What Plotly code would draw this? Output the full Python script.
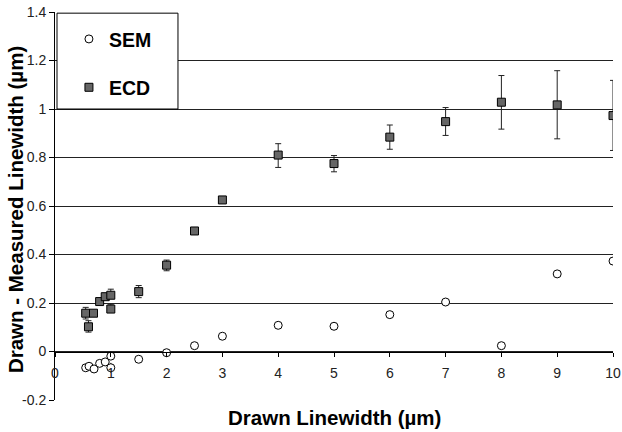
import plotly.graph_objects as go

# SEM data
sem_x = [0.55, 0.61, 0.70, 0.80, 0.90, 1.0, 1.0, 1.5, 2.0, 2.5, 3.0, 4.0, 5.0, 6.0, 7.0, 8.0, 9.0, 10.0]
sem_y = [-0.067, -0.061, -0.072, -0.049, -0.043, -0.019, -0.067, -0.032, -0.005, 0.024, 0.063,
         0.108, 0.104, 0.152, 0.204, 0.024, 0.320, 0.373]
sem_err = [0, 0, 0, 0, 0, 0, 0.02, 0, 0, 0, 0, 0, 0, 0, 0, 0, 0, 0]

# ECD data
ecd_x = [0.55, 0.60, 0.69, 0.80, 0.90, 1.0, 1.0, 1.5, 2.0, 2.5, 3.0, 4.0, 5.0, 6.0, 7.0, 8.0, 9.0, 10.0]
ecd_y = [0.158, 0.102, 0.158, 0.206, 0.226, 0.232, 0.175, 0.247, 0.356, 0.497, 0.625,
         0.810, 0.775, 0.884, 0.948, 1.028, 1.017, 0.973]
ecd_err_plus = [0.024, 0.025, 0.008, 0.010, 0.010, 0.025, 0.020, 0.025, 0.021, 0.008, 0.008,
                0.047, 0.033, 0.050, 0.058, 0.110, 0.141, 0.145]
ecd_err_minus = [0.024, 0.022, 0.008, 0.010, 0.010, 0.010, 0.010, 0.025, 0.023, 0.008, 0.008,
                 0.051, 0.034, 0.050, 0.057, 0.111, 0.140, 0.144]

y_ticks = [-0.2, 0, 0.2, 0.4, 0.6, 0.8, 1.0, 1.2, 1.4]
y_tick_text = ["-0.2", "0", "0.2", "0.4", "0.6", "0.8", "1", "1.2", "1.4"]
x_ticks = [0, 1, 2, 3, 4, 5, 6, 7, 8, 9, 10]

FONT = "Liberation Sans, Arial, sans-serif"

fig = go.Figure()
fig.add_trace(go.Scatter(
    x=sem_x, y=sem_y, mode="markers", name="SEM", legendgroup="a",
    marker=dict(symbol="circle", size=8, color="white", line=dict(color="black", width=1)),
    error_y=dict(type="data", array=sem_err, symmetric=True, color="black", thickness=1, width=0),
))
fig.add_trace(go.Scatter(
    x=ecd_x, y=ecd_y, mode="markers", name="ECD", legendgroup="b",
    marker=dict(symbol="square", size=8, color="#666666", line=dict(color="black", width=1)),
    error_y=dict(type="data", array=ecd_err_plus, arrayminus=ecd_err_minus,
                 color="#222222", thickness=1, width=3),
))

fig.update_layout(
    width=622, height=432,
    margin=dict(l=55, r=9, t=12, b=32),
    paper_bgcolor="white", plot_bgcolor="white",
    font=dict(family=FONT, size=14, color="#222222"),
    showlegend=True,
    legend=dict(
        x=0.025, y=0.98, xanchor="left", yanchor="top",
        bgcolor="rgba(0,0,0,0)", borderwidth=0,
        font=dict(family=FONT, size=19.5, color="black", weight="bold"),
        traceorder="grouped", tracegroupgap=20,
    ),
    xaxis=dict(
        range=[0, 10], tickvals=x_ticks, anchor="free", position=0.125,
        showgrid=False, zeroline=False, showline=True, linecolor="black", linewidth=1,
        ticks="outside", ticklen=4, tickcolor="black", automargin=False,
        ticklabelstandoff=5,
        tickfont=dict(family=FONT, size=14, color="#222222"),
    ),
    yaxis=dict(
        range=[-0.2, 1.4], tickvals=y_ticks, ticktext=y_tick_text,
        showgrid=True, gridcolor="#222222", gridwidth=1, zeroline=False,
        showline=True, linecolor="black", linewidth=1, automargin=False,
        ticks="outside", ticklen=5, tickcolor="black",
        tickfont=dict(family=FONT, size=14, color="#222222"),
    ),
    shapes=[dict(
        type="rect", xref="paper", yref="paper",
        x0=0.0036, x1=0.2204, y0=0.75, y1=0.997,
        line=dict(color="black", width=1), fillcolor="white", layer="above",
    )],
    annotations=[
        dict(text="Drawn Linewidth (µm)", xref="paper", yref="paper",
             x=0.5, y=-0.0459, xanchor="center", yanchor="middle", showarrow=False,
             font=dict(family=FONT, size=20.5, color="black", weight="bold")),
        dict(text="Drawn - Measured Linewidth (µm)", xref="paper", yref="paper",
             x=-0.0703, y=0.4915, xanchor="center", yanchor="middle", showarrow=False,
             textangle=-90,
             font=dict(family=FONT, size=20.5, color="black", weight="bold")),
    ],
)

fig.write_html("out.html", config={"displayModeBar": False},
               post_script="document.body.style.margin='0px';document.body.style.overflow='hidden';")
